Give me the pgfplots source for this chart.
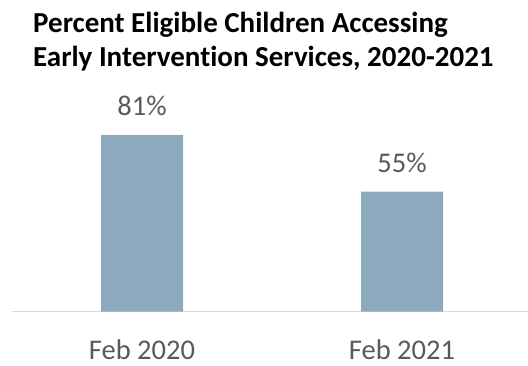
\documentclass[border=0pt]{standalone}
\usepackage{pgfplots}
\pgfplotsset{compat=1.18}
\usepackage{fontspec}
\setmainfont{Carlito}[Ligatures=NoCommon]
\definecolor{barc}{HTML}{8DA9BE}
\definecolor{txt}{HTML}{595959}
\definecolor{axc}{HTML}{D9D9D9}
\begin{document}
\begin{tikzpicture}
\useasboundingbox (-12pt,-53.5pt) rectangle (516pt,311.5pt);
\begin{axis}[
  scale only axis, width=516pt, height=218pt,
  at={(0pt,0pt)}, anchor=south west,
  xmin=-0.5, xmax=1.4846,
  ymin=0, ymax=100,
  axis x line=bottom, axis y line=none,
  axis line style={-, draw=axc, line width=1.5pt},
  xtick={0,1}, xticklabels={Feb 2020, Feb 2021},
  major tick length=0pt, xtick style={draw=none},
  xticklabel style={anchor=base, yshift=-47.5pt, inner sep=0pt, font=\fontsize{28.5}{34}\selectfont, text=txt},
  ytick=\empty,
  ybar, bar width=82pt, bar shift=0pt,
  point meta=explicit symbolic,
  nodes near coords={\pgfplotspointmeta\%},
  every node near coord/.append style={anchor=base, yshift=19pt, inner sep=0pt, font=\fontsize{28.5}{34}\selectfont, text=txt},
  clip=false,
]
\addplot[fill=barc, draw=none] coordinates {(0,81) [81] (1,55) [55]};
\end{axis}
\node[anchor=base west, inner sep=0pt, font=\fontsize{29}{35}\selectfont\bfseries] at (21pt,279.2pt) {Percent Eligible Children Accessing};
\node[anchor=base west, inner sep=0pt, font=\fontsize{29}{35}\selectfont\bfseries] at (21pt,245pt) {Early Intervention Services, 2020-2021};
\end{tikzpicture}
\end{document}
